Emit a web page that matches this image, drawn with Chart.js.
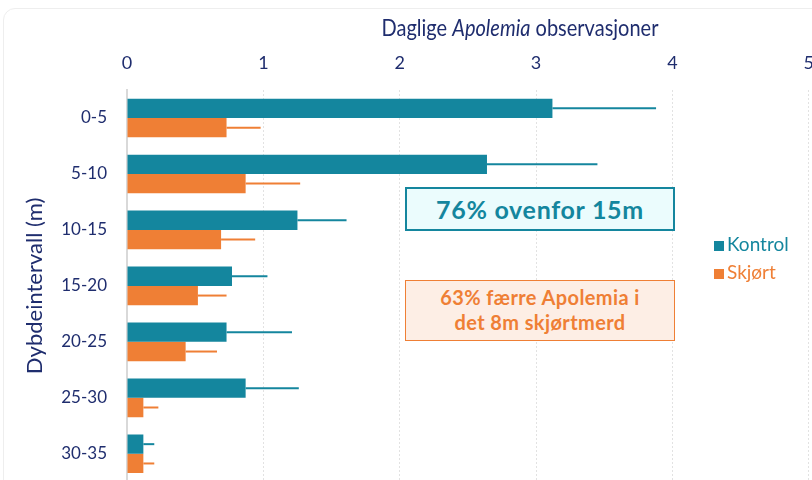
<!DOCTYPE html>
<html>
<head>
<meta charset="utf-8">
<script src="https://cdn.jsdelivr.net/npm/chart.js@4"></script>
<style>
  html, body { margin: 0; padding: 0; background: #fff; overflow: hidden; }
  #wrap { position: relative; width: 812px; height: 480px; overflow: hidden; font-family: "Lato", "DejaVu Sans", sans-serif; }
  #chart { position: absolute; left: 0; top: 0; }
  #frame { position: absolute; left: 3px; top: 8px; width: 830px; height: 500px; border: 1px solid #eeeeee; border-radius: 12px; }
  .note { position: absolute; box-sizing: border-box; text-align: center; font-weight: bold; }
  #note1 { left: 405px; top: 187px; width: 270px; height: 44px; background: #ebfcfd; border: 2px solid #14869e; color: #14869e; font-size: 25px; line-height: 40px; letter-spacing: 0.7px; }
  #note2 { left: 405px; top: 280px; width: 270px; height: 61px; background: #fdeee5; border: 1.5px solid #ef7f35; color: #ef7f35; font-size: 20px; line-height: 25px; padding-top: 4px; letter-spacing: 0.4px; }
  .leg { position: absolute; left: 714px; font-size: 19px; }
  .leg span { display: inline-block; width: 10px; height: 10px; margin-right: 3px; }
</style>
</head>
<body>
<div id="wrap">
  <div id="frame"></div>
  <canvas id="chart" width="830" height="504"></canvas>
  <div class="note" id="note1">76% ovenfor 15m</div>
  <div class="note" id="note2">63% færre Apolemia i<br>det 8m skjørtmerd</div>
  <div class="leg" style="top:232px;color:#14869e"><span style="background:#14869e"></span>Kontrol</div>
  <div class="leg" style="top:260px;color:#ef7f35"><span style="background:#ef7f35"></span>Skjørt</div>
</div>
<script>
// ==== Data ====
const depths = ["0-5", "5-10", "10-15", "15-20", "20-25", "25-30", "30-35"];
const kontrol = [3.12, 2.64, 1.25, 0.77, 0.73, 0.87, 0.12];
const kontrolErr = [0.76, 0.81, 0.36, 0.26, 0.48, 0.39, 0.08];
const skjort = [0.73, 0.87, 0.69, 0.52, 0.43, 0.12, 0.12];
const skjortErr = [0.25, 0.40, 0.25, 0.21, 0.23, 0.11, 0.08];
const xTicks = [0, 1, 2, 3, 4, 5];

const navy = "#1f2d6e";
const teal = "#14869e";
const orange = "#ef7f35";
const fontFam = "Lato, 'DejaVu Sans', sans-serif";

// ==== Error bars (upper side only, no caps) ====
const errorBars = {
  id: "errorBars",
  afterDatasetsDraw(chart) {
    const ctx = chart.ctx;
    const xs = chart.scales.x;
    chart.data.datasets.forEach((ds, i) => {
      const meta = chart.getDatasetMeta(i);
      meta.data.forEach((bar, j) => {
        const x0 = xs.getPixelForValue(ds.data[j]);
        const x1 = xs.getPixelForValue(ds.data[j] + ds.err[j]);
        ctx.save();
        ctx.strokeStyle = ds.backgroundColor;
        ctx.lineWidth = 2;
        ctx.beginPath();
        ctx.moveTo(x0, bar.y);
        ctx.lineTo(x1, bar.y);
        ctx.stroke();
        ctx.restore();
      });
    });
  }
};

// ==== Axis title with italic genus name (a bit stretched, like the original font) ====
const topTitle = {
  id: "topTitle",
  afterDraw(chart) {
    const ctx = chart.ctx;
    const parts = [
      ["Daglige ", "normal"],
      ["Apolemia", "italic"],
      [" observasjoner", "normal"]
    ];
    ctx.save();
    ctx.fillStyle = navy;
    ctx.textBaseline = "middle";
    ctx.translate(0, 28);
    ctx.scale(1, 1.2);
    let total = 0;
    parts.forEach(p => {
      ctx.font = p[1] + " 20px " + fontFam;
      total += ctx.measureText(p[0]).width;
    });
    let x = 520 - total / 2;
    parts.forEach(p => {
      ctx.font = p[1] + " 20px " + fontFam;
      ctx.fillText(p[0], x, 0);
      x += ctx.measureText(p[0]).width;
    });
    ctx.restore();
  }
};

new Chart(document.getElementById("chart"), {
  type: "bar",
  data: {
    labels: depths,
    datasets: [
      { label: "Kontrol", data: kontrol, err: kontrolErr, backgroundColor: teal },
      { label: "Skjørt", data: skjort, err: skjortErr, backgroundColor: orange }
    ]
  },
  options: {
    indexAxis: "y",
    responsive: false,
    animation: false,
    layout: { padding: { top: 46, right: 0, bottom: 0, left: 0 } },
    datasets: { bar: { barPercentage: 1, categoryPercentage: 0.69 } },
    plugins: { legend: { display: false }, tooltip: { enabled: false } },
    scales: {
      x: {
        position: "top",
        min: 0,
        max: 5,
        afterBuildTicks: s => { s.ticks = xTicks.map(v => ({ value: v })); },
        afterFit: s => { s.height = 44; },
        grid: { color: "#e2e2e2", drawTicks: false },
        border: { display: false, dash: [2, 2] },
        ticks: { color: navy, font: { family: fontFam, size: 18 }, padding: 16 }
      },
      y: {
        afterFit: s => { s.width = 127; },
        grid: { display: false },
        border: { display: true, color: "#d9d9d9", width: 2 },
        ticks: { color: navy, font: { family: fontFam, size: 17 }, padding: 12 },
        title: {
          display: true,
          text: "Dybdeintervall (m)",
          color: navy,
          font: { family: fontFam, size: 22 },
          padding: { top: 22, bottom: 0 }
        }
      }
    }
  },
  plugins: [errorBars, topTitle]
});
</script>
</body>
</html>
